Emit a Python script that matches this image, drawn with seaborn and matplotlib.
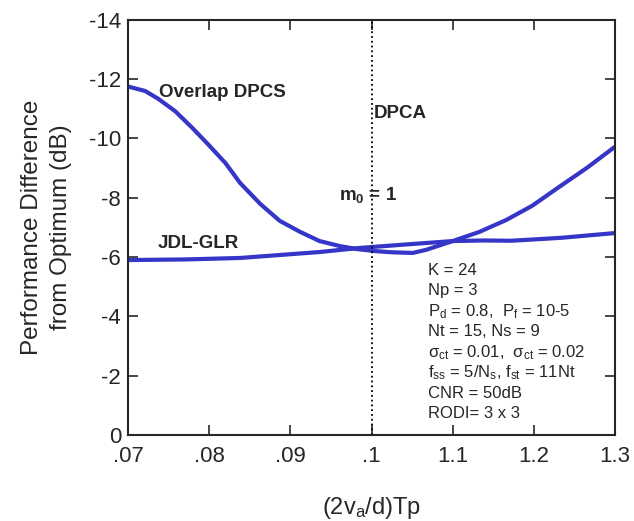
import pandas as pd
import matplotlib
matplotlib.use("Agg")
import matplotlib.pyplot as plt
import seaborn as sns

# rotulos do eixo x (posicoes igualmente espacadas)
tick_labels = [".07", ".08", ".09", ".1", "1.1", "1.2", "1.3"]

# curvas (x em unidades de tick)
overlap_x = [0.0, 0.21, 0.37, 0.58, 0.79, 0.99, 1.2, 1.38, 1.63, 1.87, 2.12, 2.36,
             2.61, 2.82, 3.05, 3.26, 3.51, 3.68, 4.0, 4.33, 4.66, 4.98, 5.32, 5.65, 6.0]
overlap_y = [-11.75, -11.6, -11.34, -10.92, -10.36, -9.79, -9.17, -8.5, -7.79, -7.22, -6.85, -6.54,
             -6.37, -6.27, -6.2, -6.16, -6.14, -6.25, -6.54, -6.85, -7.25, -7.73, -8.38, -9.0, -9.72]

jdl_x = [0.0, 0.7, 1.38, 1.87, 2.36, 2.86, 3.4, 4.0, 4.4, 4.72, 5.34, 6.0]
jdl_y = [-5.9, -5.92, -5.97, -6.07, -6.17, -6.31, -6.42, -6.54, -6.56, -6.55, -6.65, -6.81]

params = ["K = 24",
          "Np = 3",
          r"P$_\mathregular{d}$ = 0.8,  P$_\mathregular{f}$ = 10-5",
          "Nt = 15, Ns = 9",
          r"$\sigma_\mathregular{ct}$ = 0.01,  $\sigma_\mathregular{ct}$ = 0.02",
          r"f$_\mathregular{ss}$ = 5/N$_\mathregular{s}$, f$_\mathregular{st}$ = 11Nt",
          "CNR = 50dB",
          "RODI= 3 x 3"]

sns.set_style("ticks")
plt.rcParams["font.family"] = ["Liberation Sans", "DejaVu Sans"]
plt.rcParams["mathtext.fontset"] = "custom"
plt.rcParams["mathtext.rm"] = "Liberation Sans"
plt.rcParams["mathtext.it"] = "Liberation Sans"

df1 = pd.DataFrame({"x": overlap_x, "y": overlap_y})
df2 = pd.DataFrame({"x": jdl_x, "y": jdl_y})

fig = plt.figure(figsize=(6.34, 5.21), dpi=100)
ax = fig.add_axes([0.202, 0.165, 0.768, 0.797])
cor = "#3535c8"
sns.lineplot(data=df1, x="x", y="y", ax=ax, color=cor, lw=3, sort=False)
sns.lineplot(data=df2, x="x", y="y", ax=ax, color=cor, lw=3, sort=False)

ax.axvline(3, color="black", ls=":", lw=1.3)

ax.set_xlim(0, 6)
ax.set_ylim(0, -14)
ax.set_xticks(range(7))
ax.set_xticklabels(tick_labels)
ax.set_yticks(range(0, -15, -2))
ax.set_yticklabels([str(v) for v in range(0, -15, -2)])
ax.tick_params(direction="in", top=True, right=True, length=7, width=1.2,
               labelsize=16, pad=5)
ax.tick_params(axis="x", pad=8)
for s in ax.spines.values():
    s.set_linewidth(1.5)

ax.set_xlabel(r"(2v$_\mathregular{a}$/d)Tp", fontsize=17, labelpad=20)
ax.set_ylabel("Performance Difference\nfrom Optimum (dB)", fontsize=17.5, labelpad=12,
              linespacing=1.45)

ax.text(0.38, -11.55, "Overlap DPCS", fontsize=13.5, fontweight="bold", va="center")
ax.text(3.03, -10.85, "DPCA", fontsize=13.5, fontweight="bold", va="center")
ax.text(2.6, -8.1, r"m$_\mathregular{0}$ = 1", fontsize=13.5, fontweight="bold", va="center")
ax.text(0.36, -6.45, "JDL-GLR", fontsize=13.5, fontweight="bold", va="center")

for i, t in enumerate(params):
    ax.text(3.7, -5.55 + i * 0.69, t, fontsize=12, va="center")

fig.savefig("out.png", dpi=100)
